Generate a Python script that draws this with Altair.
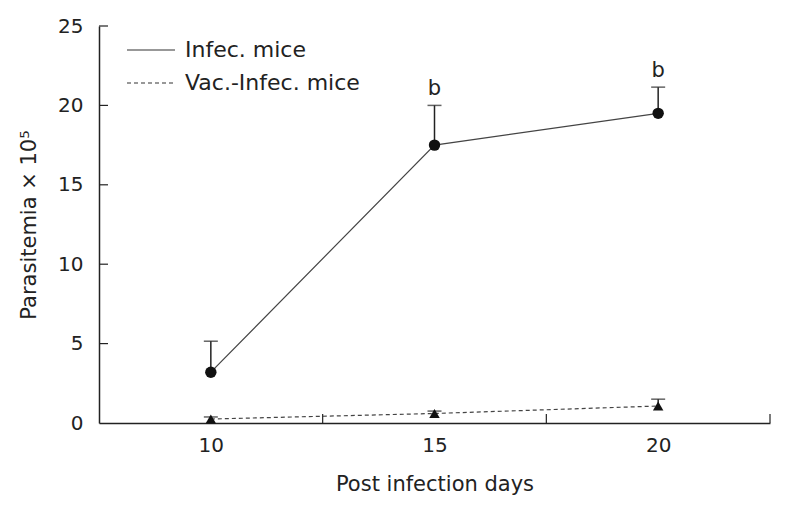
import altair as alt
import pandas as pd

# ---- data ----
days = [10, 15, 20]
infec_mean = [3.2, 17.5, 19.5]
infec_upper = [5.15, 20.0, 21.15]
vac_mean = [0.25, 0.6, 1.07]
vac_upper = [0.38, 0.75, 1.5]
sig_labels = ["", "b", "b"]
legend_labels = ["Infec. mice", "Vac.-Infec. mice"]
x_tick_marks = [12.5, 17.5, 22.5]
y_tick_marks = [5, 10, 15, 20, 25]

FONT = "DejaVu Sans"
W, H = 671, 397
INK = "#222222"

infec = pd.DataFrame({"day": days, "mean": infec_mean, "upper": infec_upper, "sig": sig_labels})
vac = pd.DataFrame({"day": days, "mean": vac_mean, "upper": vac_upper})

xscale = alt.Scale(domain=[7.5, 22.5], nice=False, zero=False)
yscale = alt.Scale(domain=[0, 25], nice=False)

xaxis = alt.Axis(values=days, tickSize=0, labelPadding=12, labelFont=FONT, labelFontSize=20,
                 labelColor=INK, domainColor=INK, domainWidth=1.5, grid=False,
                 title="Post infection days", titleFont=FONT, titleFontSize=21,
                 titleFontWeight="normal", titleColor=INK, titleBaseline="alphabetic",
                 titleY=67)
yaxis = alt.Axis(values=[0, 5, 10, 15, 20, 25], tickSize=0, labelPadding=16, labelFont=FONT,
                 labelFontSize=20, labelColor=INK, domainColor=INK, domainWidth=1.5, grid=False,
                 title="Parasitemia × 10⁵", titleFont=FONT, titleFontSize=21,
                 titleFontWeight="normal", titleColor=INK, titleBaseline="alphabetic",
                 titleX=-64, titleY=H / 2, titleAngle=-90, titleAlign="center")

x = alt.X("day:Q", scale=xscale, axis=xaxis)
y = alt.Y("mean:Q", scale=yscale, axis=yaxis)

base_i = alt.Chart(infec)
base_v = alt.Chart(vac)

infec_line = base_i.mark_line(color="#444444", strokeWidth=1.2).encode(x=x, y=y)
infec_err = base_i.mark_rule(color=INK, strokeWidth=1.5).encode(
    x="day:Q", y="mean:Q", y2="upper:Q")
infec_cap = base_i.mark_tick(color=INK, thickness=1.5, size=14, orient="horizontal").encode(
    x="day:Q", y="upper:Q")
infec_pts = base_i.mark_point(shape="circle", filled=True, size=130, color="#111111", opacity=1).encode(
    x="day:Q", y="mean:Q")
infec_txt = base_i.mark_text(font=FONT, fontSize=21, color=INK, baseline="alphabetic", dy=-10).encode(
    x="day:Q", y="upper:Q", text="sig:N")

vac_line = base_v.mark_line(color="#444444", strokeWidth=1.2, strokeDash=[4, 3]).encode(
    x="day:Q", y="mean:Q")
vac_err = base_v.mark_rule(color=INK, strokeWidth=1.5).encode(x="day:Q", y="mean:Q", y2="upper:Q")
vac_cap = base_v.mark_tick(color=INK, thickness=1.5, size=14, orient="horizontal").encode(
    x="day:Q", y="upper:Q")
vac_pts = base_v.mark_point(shape="triangle-up", filled=True, size=110, color="#111111", opacity=1).encode(
    x="day:Q", y="mean:Q")

# inward ticks
xt = alt.Chart(pd.DataFrame({"t": x_tick_marks})).mark_rule(color=INK, strokeWidth=1.2).encode(
    x="t:Q", y=alt.value(H - 9), y2=alt.value(H))
yt = alt.Chart(pd.DataFrame({"t": y_tick_marks})).mark_rule(color=INK, strokeWidth=1.2).encode(
    y="t:Q", x=alt.value(0), x2=alt.value(9))

# legend
leg = pd.DataFrame({"label": legend_labels})
leg1_line = alt.Chart(leg.iloc[[0]]).mark_rule(color="#333333", strokeWidth=1.2).encode(
    x=alt.value(28), x2=alt.value(76), y=alt.value(24))
leg2_line = alt.Chart(leg.iloc[[1]]).mark_rule(color="#333333", strokeWidth=1.2, strokeDash=[4, 3]).encode(
    x=alt.value(28), x2=alt.value(76), y=alt.value(57))
leg1_txt = alt.Chart(leg.iloc[[0]]).mark_text(font=FONT, fontSize=22, color=INK, align="left",
                                              baseline="middle").encode(
    x=alt.value(86), y=alt.value(24), text="label:N")
leg2_txt = alt.Chart(leg.iloc[[1]]).mark_text(font=FONT, fontSize=22, color=INK, align="left",
                                              baseline="middle").encode(
    x=alt.value(86), y=alt.value(57), text="label:N")

chart = alt.layer(
    infec_line, vac_line, infec_err, infec_cap, vac_err, vac_cap, infec_pts, vac_pts, infec_txt,
    xt, yt, leg1_line, leg2_line, leg1_txt, leg2_txt
).properties(
    width=W, height=H,
    background="white",
    autosize=alt.AutoSizeParams(type="none"),
    padding={"left": 91, "top": 18, "right": 9, "bottom": 77},
).configure_view(stroke=None)

chart.save("out.html", embed_options={"renderer": "svg", "actions": False})
